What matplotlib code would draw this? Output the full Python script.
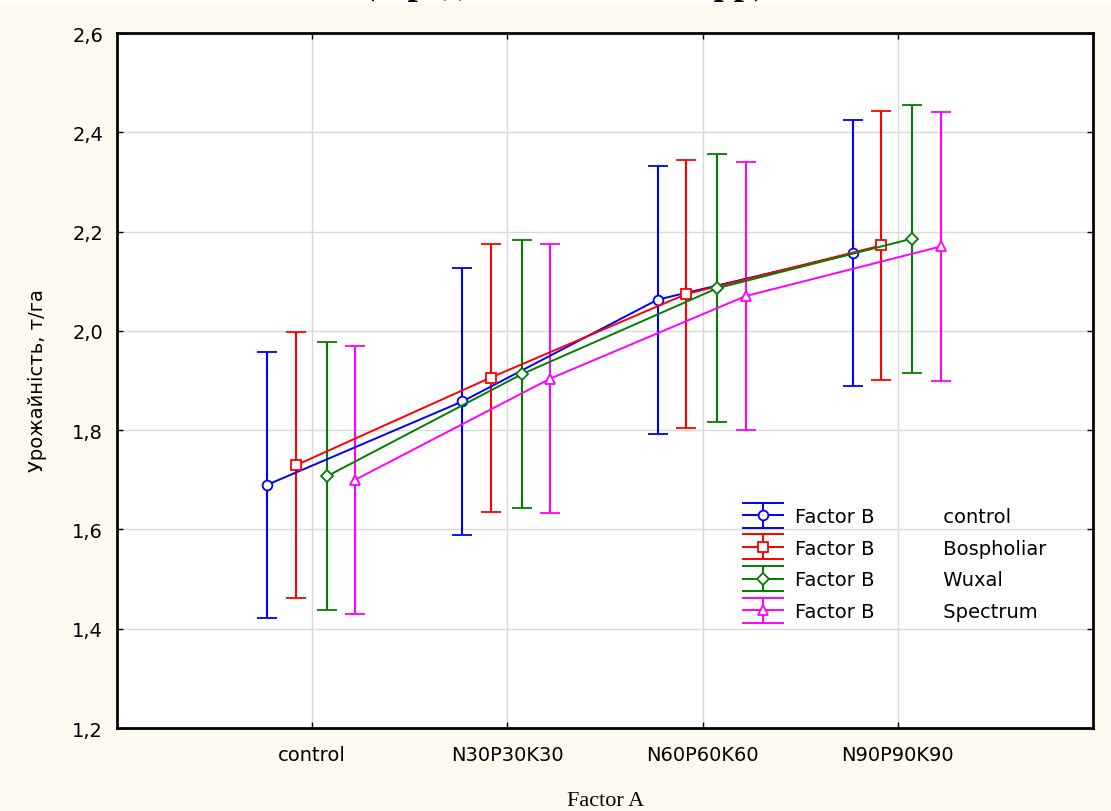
import matplotlib
matplotlib.use('Agg')
import numpy as np
import matplotlib.pyplot as plt
from matplotlib.lines import Line2D
from matplotlib.legend_handler import HandlerBase
from matplotlib.patches import Rectangle

# ---- дані ----
factor_a = ['control', 'N30P30K30', 'N60P60K60', 'N90P90K90']
factor_b = ['control', 'Bospholiar', 'Wuxal', 'Spectrum']

mean_control = [1.690, 1.858, 2.063, 2.156]
mean_bospholiar = [1.729, 1.906, 2.074, 2.172]
mean_wuxal = [1.707, 1.913, 2.086, 2.186]
mean_spectrum = [1.700, 1.904, 2.070, 2.170]

err_control = [0.268, 0.269, 0.270, 0.268]
err_bospholiar = [0.268, 0.270, 0.270, 0.270]
err_wuxal = [0.270, 0.270, 0.270, 0.270]
err_spectrum = [0.270, 0.270, 0.270, 0.270]

means = [mean_control, mean_bospholiar, mean_wuxal, mean_spectrum]
errs = [err_control, err_bospholiar, err_wuxal, err_spectrum]

colors = ['#0000FF', '#FF0000', '#008000', '#FF00FF']
markers = ['o', 's', 'D', '^']
marker_sizes = [7, 7, 6, 7]
offsets = [-0.23, -0.085, 0.075, 0.22]

plt.rcParams['font.family'] = ['DejaVu Sans']
plt.rcParams['font.size'] = 14

BG = '#FFFAF0'
SERIF = ['Liberation Serif', 'DejaVu Serif']


# легенда у стилі Statistica: лінія + вертикальний відрізок + широкі "шапки"
class ErrHandler(HandlerBase):
    def create_artists(self, legend, orig_handle, xdescent, ydescent,
                       width, height, fontsize, trans):
        c = orig_handle.get_color()
        m = orig_handle.get_marker()
        ms = orig_handle.get_markersize()
        x0, x1 = -xdescent, -xdescent + width
        xm = (x0 + x1) / 2
        cy = height / 2 - ydescent
        gap = 9
        main = Line2D([x0, x1], [cy, cy], color=c, lw=1.4)
        vert = Line2D([xm, xm], [cy - gap, cy + gap], color=c, lw=1.4)
        top = Line2D([x0, x1], [cy + gap, cy + gap], color=c, lw=1.4)
        bot = Line2D([x0, x1], [cy - gap, cy - gap], color=c, lw=1.4)
        mk = Line2D([xm], [cy], marker=m, ms=ms, mfc='white', mec=c, mew=1.3, lw=0)
        arts = [main, vert, top, bot, mk]
        for a in arts:
            a.set_transform(trans)
        return arts


fig = plt.figure(figsize=(11.11, 8.12), dpi=100, facecolor=BG)
ax = fig.add_axes([0.1053, 0.1022, 0.8785, 0.8559])
ax.set_facecolor('white')

x = np.arange(len(factor_a))
proxies = []
for i in range(len(factor_b)):
    ax.errorbar(x + offsets[i], means[i], yerr=errs[i], fmt='-', color=colors[i],
                marker=markers[i], ms=marker_sizes[i], mfc='white', mec=colors[i], mew=1.3,
                lw=1.4, elinewidth=1.5, capsize=7, capthick=1.5, zorder=3)
    proxies.append(Line2D([], [], color=colors[i], marker=markers[i], ms=marker_sizes[i]))

ax.set_xlim(-1, 4)
ax.set_ylim(1.2, 2.6)
ax.set_xticks(x)
ax.set_xticklabels(factor_a)
yt = np.arange(1.2, 2.61, 0.2)
ax.set_yticks(yt)
ax.set_yticklabels([f'{v:.1f}'.replace('.', ',') for v in yt])
ax.tick_params(direction='in', top=True, right=True, length=4, width=1, labelsize=14)
ax.tick_params(axis='y', pad=10)
ax.tick_params(axis='x', pad=12)
ax.grid(True, color='#d9d9d9', lw=1, zorder=0)
ax.set_axisbelow(True)
for s in ax.spines.values():
    s.set_linewidth(2)
    s.set_color('black')

ax.set_ylabel('Урожайність, т/га', fontsize=14)
ax.yaxis.set_label_coords(-0.072, 0.502)
ax.set_xlabel('Factor A', fontsize=16, family=SERIF)
ax.xaxis.set_label_coords(0.501, -0.09)

labels = ['Factor B           ' + n for n in factor_b]
ax.legend(proxies, labels, handler_map={Line2D: ErrHandler()}, frameon=False,
          loc='center left', bbox_to_anchor=(0.641, 0.236), borderaxespad=0,
          borderpad=0, handlelength=2.06, handletextpad=0.62, labelspacing=0.65,
          fontsize=14)

# верхня смужка із заголовком, що обрізаний краєм зображення
fig.patches.append(Rectangle((0, 1 - 4 / 812), 1, 4 / 812, transform=fig.transFigure,
                             facecolor='white', edgecolor='none'))
fig.text(0.508, 1.0 + 6.5 / 812, '(середнє за 2019-2021 рр)', ha='center', va='baseline',
         fontsize=26, fontweight='bold', family=SERIF)

fig.savefig('out.png', dpi=100, facecolor=BG)
